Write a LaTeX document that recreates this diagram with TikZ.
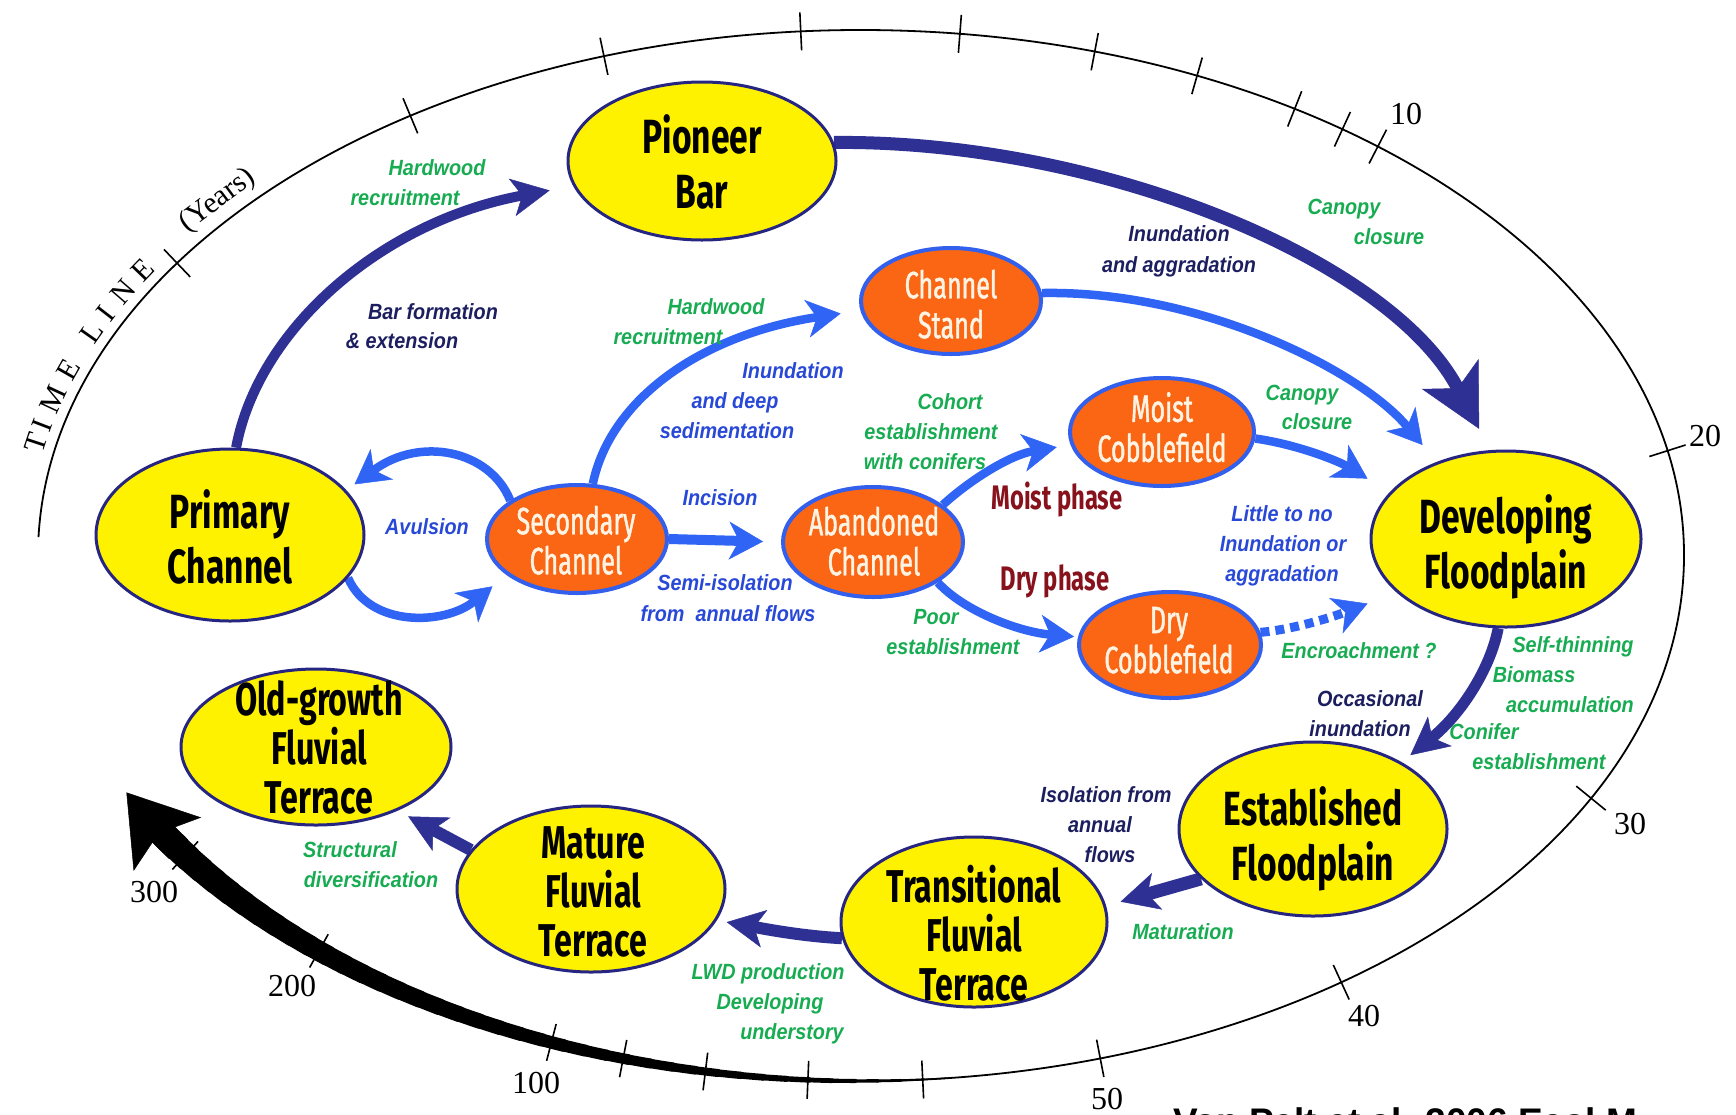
\documentclass[tikz,border=0pt]{standalone}
\usepackage{fontspec}
\setmainfont{Liberation Sans}
\newfontfamily\nodefont[FakeStretch=0.7]{Fira Sans}
\newfontfamily\orgfont[FakeStretch=0.66,FakeBold=1.2]{Fira Sans}
\newfontfamily\lblfont[FakeStretch=0.9]{Liberation Sans}
\newfontfamily\numfont{Liberation Serif}
\usetikzlibrary{arrows.meta,shapes.geometric,calc}
\pgfdeclarelayer{bg}
\pgfsetlayers{bg,main}
\definecolor{ynavy}{RGB}{38,38,130}
\definecolor{oblue}{RGB}{50,95,235}
\definecolor{ofill}{RGB}{250,102,20}
\definecolor{otext}{RGB}{255,244,228}
\definecolor{anavy}{RGB}{46,48,148}
\definecolor{ablue}{RGB}{48,100,245}
\definecolor{lgreen}{RGB}{24,172,82}
\definecolor{lnavy}{RGB}{28,30,95}
\definecolor{lblue}{RGB}{40,72,215}
\definecolor{dred}{RGB}{135,18,28}
\tikzset{
 yel/.style={ellipse, draw=ynavy, line width=3pt, fill=yellow, inner sep=0pt},
 org/.style={ellipse, draw=oblue, line width=4pt, fill=ofill, inner sep=0pt},
 ytxt/.style={align=center, inner sep=0pt, text depth=0pt, font=\nodefont\bfseries\fontsize{48}{55}\selectfont},
 ytxt3/.style={align=center, inner sep=0pt, text depth=0pt, font=\nodefont\bfseries\fontsize{46}{49}\selectfont},
 otxt/.style={align=center, inner sep=0pt, text depth=0pt, text=otext, font=\orgfont\fontsize{38}{40}\selectfont},
 phase/.style={inner sep=0pt, text=dred, font=\nodefont\bfseries\fontsize{34}{40}\selectfont},
 lbl/.style={inner sep=0pt, text height=16pt, text depth=4pt, font=\lblfont\bfseries\itshape\fontsize{22}{30}\selectfont},
 gl/.style={lbl, text=lgreen},
 nl/.style={lbl, text=lnavy},
 bl/.style={lbl, text=lblue},
 navyarr/.style={draw=anavy, line width=11pt, -{Stealth[length=38pt,width=38pt,inset=10pt,line width=0.5pt]}},
 bluearr/.style={draw=ablue, line width=8.5pt, -{Stealth[length=34pt,width=38pt,inset=10pt,line width=0.5pt]}},
 tickln/.style={line width=1.6pt, black},
 num/.style={inner sep=0pt, font=\numfont\fontsize{32}{36}\selectfont},
 tl/.style={inner sep=0pt, font=\numfont\fontsize{30}{34}\selectfont},
}
\begin{document}
\begin{tikzpicture}[x=1pt,y=-1pt]
\useasboundingbox (0,0) rectangle (1736,1114);
\clip (0,0) rectangle (1736,1114);
\coordinate (C) at (861,555.5);

% ---------- nodes ----------
\node[yel, minimum width=268pt, minimum height=158pt] (pb) at (702,161) {};
\node[ytxt] (pbt) at (702,162) {Pioneer\\Bar};
\node[yel, minimum width=268pt, minimum height=172pt] (pc) at (230,535) {};
\node[ytxt] (pct) at (230,537) {Primary\\Channel};
\node[yel, minimum width=270pt, minimum height=176pt] (df) at (1506,539) {};
\node[ytxt] (dft) at (1506,542) {Developing\\Floodplain};
\node[yel, minimum width=268pt, minimum height=174pt] (ef) at (1313,829) {};
\node[ytxt] (eft) at (1313,834) {Established\\Floodplain};
\node[yel, minimum width=266pt, minimum height=170pt] (tf) at (974,922) {};
\node[ytxt3] (tft) at (974,933) {Transitional\\Fluvial\\Terrace};
\node[yel, minimum width=268pt, minimum height=166pt] (mf) at (591,889) {};
\node[ytxt3] (mft) at (593,892) {Mature\\Fluvial\\Terrace};
\node[yel, minimum width=270pt, minimum height=156pt] (of) at (316,747) {};
\node[ytxt3] (oft) at (319,747) {Old-growth\\Fluvial\\Terrace};

\node[org, minimum width=180pt, minimum height=106pt] (cs) at (951,301) {};
\node[otxt] (cst) at (951,304) {Channel\\Stand};
\node[org, minimum width=180pt, minimum height=108pt] (sc) at (577,539) {};
\node[otxt] (sct) at (576,540) {Secondary\\Channel};
\node[org, minimum width=180pt, minimum height=110pt] (ac) at (873,542) {};
\node[otxt] (act) at (874,541) {Abandoned\\Channel};
\node[org, minimum width=184pt, minimum height=108pt] (mc) at (1162,432) {};
\node[otxt] (mct) at (1162,427) {Moist\\Cobblefield};
\node[org, minimum width=182pt, minimum height=106pt] (dc) at (1170,645) {};
\node[otxt] (dct) at (1169,640) {Dry\\Cobblefield};

% ---------- timeline & connectors (behind nodes) ----------
\begin{pgfonlayer}{bg}
\fill[white] (0,0) rectangle (1736,1114);
\draw[line width=1.8pt] ($(C)+(178:823pt and 525.5pt)$) arc[start angle=178, end angle=-92, x radius=823pt, y radius=525.5pt];
\foreach \k in {0,...,39}{
  \pgfmathsetmacro\ta{-84-\k*1.6}
  \pgfmathsetmacro\tb{\ta-1.7}
  \pgfmathsetmacro\w{1.5+25.5*\k/39}
  \draw[line width=\w pt, line cap=round] ($(C)+(\ta:823pt and 525.5pt)$) arc[start angle=\ta, end angle=\tb, x radius=823pt, y radius=525.5pt];
}
\draw[line width=27pt, -{Stealth[length=66pt,width=86pt,inset=14pt,line width=0.5pt]}] ($(C)+(-146:823pt and 525.5pt)$) arc[start angle=-146, end angle=-153.2, x radius=823pt, y radius=525.5pt];

\draw[navyarr, line width=10pt, shorten >=24pt] (pc.86) .. controls (258,330) and (380,222) .. (pb.191);
\draw[navyarr, line width=13pt, -{Stealth[length=62pt,width=64pt,inset=16pt,line width=0.5pt]}, shorten >=24pt] (pb.8) .. controls (1100,140) and (1390,260) .. (df.100);
\draw[navyarr, shorten >=11pt] (df.-95) .. controls (1490,670) and (1460,715) .. (ef.37);
\draw[navyarr, line width=13pt, shorten >=15pt] (ef.204) -- (tf.7);
\draw[navyarr, line width=12pt, shorten >=10pt] (tf.187) .. controls (800,936) and (760,928) .. (mf.-14);
\draw[navyarr, line width=12pt, shorten >=12pt] (mf.162) -- (of.-38);

\draw[bluearr, shorten >=22pt] (cs.5) .. controls (1200,290) and (1360,370) .. (df.132);
\draw[bluearr, shorten >=26pt] (mc.-4) .. controls (1300,445) and (1340,462) .. (df.158);
\draw[bluearr, line width=9pt, dash pattern=on 9pt off 6pt, shorten >=31pt] (dc.8) .. controls (1290,630) and (1330,618) .. (df.206);
\draw[bluearr, shorten >=14pt] (ac.28) .. controls (970,480) and (1010,455) .. (mc.188);
\draw[bluearr, shorten >=4pt] (ac.-32) .. controls (965,612) and (1020,632) .. (dc.175);
\draw[bluearr, line width=10pt, shorten >=18pt] (sc.east) -- (ac.west);
\draw[bluearr, shorten >=20pt] (sc.74) .. controls (610,400) and (700,335) .. (cs.186);
\draw[bluearr, shorten >=10pt] (sc.150) .. controls (490,450) and (420,436) .. (pc.21);
\draw[bluearr, shorten >=18pt] (pc.-20) .. controls (370,628) and (445,625) .. (sc.207);
\end{pgfonlayer}

% ---------- ticks ----------
\foreach \t [count=\i] in {146.2,123.2,108.2,94.2,83.1,73.5,65.9,58.2,54.2,51.1,11.5,-27.5,-54.3,-73.1,-85.7,-93.7,-100.9,-106.8,-112.1,-131.2,-145.2}{
  \pgfmathsetmacro\nx{0.5255*cos(\t)}
  \pgfmathsetmacro\ny{0.823*sin(\t)}
  \pgfmathsetmacro\nl{veclen(\nx,\ny)}
  \pgfmathsetmacro\dx{19*\nx/\nl}
  \pgfmathsetmacro\dy{19*\ny/\nl}
  \coordinate (tk\i) at ($(C)+(\t:823pt and 525.5pt)$);
  \draw[tickln] ($(tk\i)-({\dx*1pt},{\dy*1pt})$) -- ($(tk\i)+({\dx*1pt},{\dy*1pt})$);
}
\node[num] (n10) at (1406,114) {10};
\node[num] (n20) at (1705,436) {20};
\node[num] (n30) at (1630,824) {30};
\node[num] (n40) at (1364,1016) {40};
\node[num] (n50) at (1107,1099) {50};
\node[num] (n100) at (536,1083) {100};
\node[num] (n200) at (292,986) {200};
\node[num] (n300) at (154,892) {300};

\foreach \ch/\t [count=\i] in {T/168.1, I/166.2, M/163.4, E/160.1, L/155.8, I/153.7, N/151.1, E/148.4}{
  \pgfmathsetmacro\rot{atan2(-0.5255*cos(\t), 0.823*sin(\t))}
  \node[tl, rotate=\rot] (tl\i) at ($(C)+(\t:843pt and 545.5pt)$) {\ch};
}
\pgfmathsetmacro\yrot{atan2(-0.5255*cos(139.6), 0.823*sin(139.6))}
\node[tl, rotate=\yrot] (years) at ($(C)+(139.6:845pt and 547.5pt)$) {(Years)};

% ---------- labels ----------
\node[gl] (g1a) at (437,169) {Hardwood};
\node[gl] (g1b) at (405,199) {recruitment};
\node[nl] (n1a) at (433,313) {Bar formation};
\node[nl] (n1b) at (402,342) {\& extension};
\node[gl] (g2a) at (1344,208) {Canopy};
\node[gl] (g2b) at (1389,238) {closure};
\node[nl] (n2a) at (1179,235) {Inundation};
\node[nl] (n2b) at (1179,266) {and aggradation};
\node[gl] (g3a) at (716,308) {Hardwood};
\node[gl] (g3b) at (668,338) {recruitment};
\node[bl] (b1a) at (793,372) {Inundation};
\node[bl] (b1b) at (735,402) {and deep};
\node[bl] (b1c) at (727,432) {sedimentation};
\node[gl] (g4a) at (950,403) {Cohort};
\node[gl] (g4b) at (931,433) {establishment};
\node[gl] (g4c) at (925,463) {with conifers};
\node[phase] (ph1) at (1057,499) {Moist phase};
\node[phase] (ph2) at (1055,581) {Dry phase};
\node[gl] (g5a) at (1302,394) {Canopy};
\node[gl] (g5b) at (1317,423) {closure};
\node[bl] (b2) at (427,528) {Avulsion};
\node[bl] (b3) at (720,499) {Incision};
\node[bl] (b4a) at (725,584) {Semi-isolation};
\node[bl] (b4b) at (728,615) {from~~annual flows};
\node[gl] (g6a) at (936,618) {Poor};
\node[gl] (g6b) at (953,648) {establishment};
\node[bl] (b5a) at (1282,515) {Little to no};
\node[bl] (b5b) at (1283,545) {Inundation or};
\node[bl] (b5c) at (1282,575) {aggradation};
\node[gl] (g7) at (1359,652) {Encroachment ?};
\node[gl] (g8a) at (1573,646) {Self-thinning};
\node[gl] (g8b) at (1534,676) {Biomass};
\node[gl] (g8c) at (1570,706) {accumulation};
\node[gl] (g8d) at (1484,733) {Conifer};
\node[gl] (g8e) at (1539,763) {establishment};
\node[nl] (n3a) at (1370,700) {Occasional};
\node[nl] (n3b) at (1360,730) {inundation};
\node[nl] (n4a) at (1106,796) {Isolation from};
\node[nl] (n4b) at (1100,826) {annual};
\node[nl] (n4c) at (1110,856) {flows};
\node[gl] (g9) at (1183,933) {Maturation};
\node[gl] (g10a) at (768,973) {LWD production};
\node[gl] (g10b) at (770,1003) {Developing};
\node[gl] (g10c) at (792,1033) {understory};
\node[gl] (g11a) at (350,851) {Structural};
\node[gl] (g11b) at (371,881) {diversification};

\node[anchor=base west, inner sep=0pt, font=\bfseries\fontsize{37}{40}\selectfont] (cred) at (1173,1134) {Van Pelt et al. 2006 Ecol M};
\end{tikzpicture}
\end{document}
